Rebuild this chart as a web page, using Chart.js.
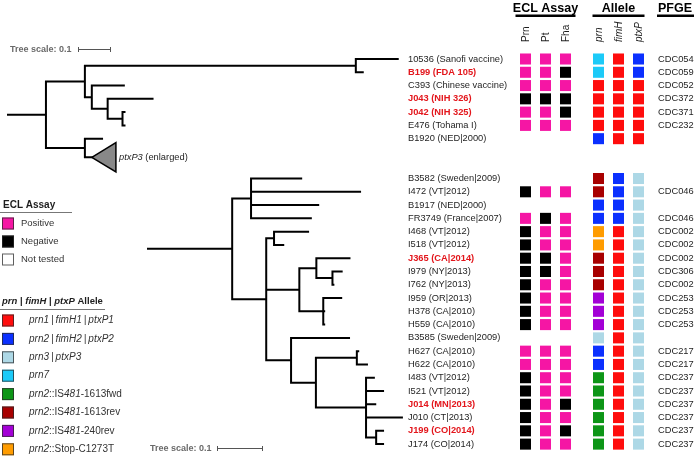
<!DOCTYPE html>
<html lang="en">
<head>
<meta charset="UTF-8">
<title>ECL assay and allele tree</title>
<script src="https://cdn.jsdelivr.net/npm/chart.js@4.4.0/dist/chart.umd.min.js"></script>
<style>
    html, body { margin: 0; padding: 0; background: #ffffff; overflow: hidden; }
    #wrap { width: 694px; height: 456px; }
</style>
</head>
<body>
<div id="wrap"><canvas id="chart" width="694" height="456"></canvas></div>
<script>
// strains top to bottom ('' = empty rows between the two trees)
const strains = [
    '10536 (Sanofi vaccine)', 'B199 (FDA 105)', 'C393 (Chinese vaccine)', 'J043 (NIH 326)',
    'J042 (NIH 325)', 'E476 (Tohama I)', 'B1920 (NED|2000)', '', '',
    'B3582 (Sweden|2009)', 'I472 (VT|2012)', 'B1917 (NED|2000)', 'FR3749 (France|2007)',
    'I468 (VT|2012)', 'I518 (VT|2012)', 'J365 (CA|2014)', 'I979 (NY|2013)', 'I762 (NY|2013)',
    'I959 (OR|2013)', 'H378 (CA|2010)', 'H559 (CA|2010)', 'B3585 (Sweden|2009)',
    'H627 (CA|2010)', 'H622 (CA|2010)', 'I483 (VT|2012)', 'I521 (VT|2012)', 'J014 (MN|2013)',
    'J010 (CT|2013)', 'J199 (CO|2014)', 'J174 (CO|2014)'
];
const highlighted = ['B199', 'J043', 'J042', 'J365', 'J014', 'J199'];

// ECL assay: P positive, N negative, '' not tested
const eclPrn = ['P','P','P','N','P','P','','','','','N','','P','N','N','N','N','N','N','N','N','','P','P','N','N','N','N','N','N'];
const eclPt  = ['P','P','P','N','P','P','','','','','P','','N','P','P','N','N','P','P','P','P','','P','P','P','P','P','P','P','P'];
const eclFha = ['P','N','P','N','N','P','','','','','P','','P','P','P','P','P','P','P','P','P','','P','P','P','P','N','P','N','P'];

// alleles: 1/2/3/7 = allele number, fwd/rev/240/stop = prn2 variants
const prnAllele  = ['7','7','1','1','1','1','2','','','rev','rev','2','2','stop','stop','rev','rev','rev','240','240','240','3','2','2','fwd','fwd','fwd','fwd','fwd','fwd'];
const fimHAllele = ['1','1','1','1','1','1','1','','','2','2','2','2','1','1','1','1','1','1','1','1','1','1','1','1','1','1','1','1','1'];
const ptxPAllele = ['2','2','1','1','1','1','1','','','3','3','3','3','3','3','3','3','3','3','3','3','3','3','3','3','3','3','3','3','3'];

const pfge = ['CDC054','CDC059','CDC052','CDC372','CDC371','CDC232','','','','','CDC046','','CDC046','CDC002','CDC002',
    'CDC002','CDC306','CDC002','CDC253','CDC253','CDC253','','CDC217','CDC217','CDC237','CDC237','CDC237','CDC237','CDC237','CDC237'];

// trees (branch lengths)
const topNewick = '(((10536:0.127,B199:0.021):0.821,(C393:0.097,(J043:0.136,(J042:0.006,E476:0.006):0.045):0.048):0.021):0.118,(B1920:0.052,ptxP3:0.021):0.118):0.115;';
const bottomNewick = '((B3582:0.109,I472:0.237,B1917:0.146,FR3749:0.130):0.041,((I468:0.074,I518:0.020):0.017,((J365:0.072,(I979:0.020,I762:0.002):0.035):0.037,(I959:0.039,H378:0.002,H559:0.002):0.052):0.072,(B3585:0.126,((H627:0.003,H622:0.022):0.089,(I483:0.017,I521:0.037,J014:0.020,J010:0.078,(J199:0.015,J174:0.015):0.022):0.109):0.054):0.054):0.074):0.183;';
const collapsedClade = { id: 'ptxP3', row: 7.4, depth: 0.073, halfSpan: 1.1 };

const eclColors = { P: '#f516a4', N: '#000000' };
const alleleColors = { '1': '#ff0d0d', '2': '#0b30ff', '3': '#add8e6', '7': '#1ccaf8',
    fwd: '#0d9617', rev: '#a80000', '240': '#a300d6', stop: '#ff9c00' };

// ---- layout ----
const W = 694, H = 456;
const ROW_TOP = 59, ROW_H = 13.28;
const FONT = '"Liberation Sans", Arial, Helvetica, sans-serif';
const LABEL_X = 408, PFGE_X = 658;
const PIPE = '\u2009|\u2009';

function parseNewick(str) {
    let i = 0;
    function readNode() {
        const node = { children: [], len: 0, name: '' };
        if (str[i] === '(') {
            i++;
            node.children.push(readNode());
            while (str[i] === ',') { i++; node.children.push(readNode()); }
            i++;
        }
        while (i < str.length && !':,();'.includes(str[i])) node.name += str[i++];
        if (str[i] === ':') {
            i++;
            let num = '';
            while (i < str.length && !',();'.includes(str[i])) num += str[i++];
            node.len = parseFloat(num);
        }
        return node;
    }
    return readNode();
}

function rowOf(id) {
    if (id === collapsedClade.id) return collapsedClade.row;
    return strains.findIndex(s => s.split(' ')[0] === id);
}

function layoutTree(node, start) {
    node.start = start;
    node.end = start + node.len;
    if (node.children.length) {
        node.children.forEach(c => layoutTree(c, node.end));
        node.y = (node.children[0].y + node.children[node.children.length - 1].y) / 2;
    } else {
        node.y = rowOf(node.name);
    }
    return node;
}

function branchSegments(node, out = []) {
    out.push({ x: node.start, y: node.y }, { x: node.end, y: node.y }, { x: null, y: null });
    if (node.children.length) {
        const first = node.children[0], last = node.children[node.children.length - 1];
        out.push({ x: node.end, y: first.y }, { x: node.end, y: last.y }, { x: null, y: null });
        node.children.forEach(c => branchSegments(c, out));
    }
    return out;
}

function findNode(node, name) {
    if (node.name === name) return node;
    for (const c of node.children) { const f = findNode(c, name); if (f) return f; }
    return null;
}

const topTree = layoutTree(parseNewick(topNewick), 0);
const bottomTree = layoutTree(parseNewick(bottomNewick), 0);
const clade = findNode(topTree, collapsedClade.id);

// heatmap columns
const columns = [
    { label: 'Prn', values: eclPrn, colors: eclColors, italic: false, pos: 0 },
    { label: 'Pt', values: eclPt, colors: eclColors, italic: false, pos: 1 },
    { label: 'Fha', values: eclFha, colors: eclColors, italic: false, pos: 2 },
    { label: 'prn', values: prnAllele, colors: alleleColors, italic: true, pos: 3.65 },
    { label: 'fimH', values: fimHAllele, colors: alleleColors, italic: true, pos: 4.65 },
    { label: 'ptxP', values: ptxPAllele, colors: alleleColors, italic: true, pos: 5.65 }
];
const heatPoints = [], heatColors = [];
columns.forEach(col => {
    col.values.forEach((v, row) => {
        if (!v) return;
        heatPoints.push({ x: col.pos, y: row });
        heatColors.push(col.colors[v]);
    });
});

const lineStyle = { showLine: true, borderColor: '#000', borderWidth: 2, pointRadius: 0,
    borderCapStyle: 'square', borderJoinStyle: 'miter', spanGaps: false, fill: false };

function setFont(ctx, size, weight, italic) {
    ctx.font = `${italic ? 'italic ' : ''}${weight || 'normal'} ${size}px ${FONT}`;
}

function drawRich(ctx, x, y, parts, size, weight, color) {
    ctx.fillStyle = color;
    ctx.textAlign = 'left';
    ctx.textBaseline = 'middle';
    parts.forEach(([t, it]) => {
        setFont(ctx, size, weight, it);
        ctx.fillText(t, x, y);
        x += ctx.measureText(t).width;
    });
}

const textPlugin = {
    id: 'textLayer',
    afterDraw(chart) {
        const ctx = chart.ctx;
        const y = chart.scales.y, xh = chart.scales.xh, xt = chart.scales.xt, xb = chart.scales.xb;
        ctx.save();

        // strain labels + PFGE
        strains.forEach((name, row) => {
            if (!name) return;
            const py = y.getPixelForValue(row);
            const hl = highlighted.includes(name.split(' ')[0]);
            ctx.textAlign = 'left';
            ctx.textBaseline = 'middle';
            setFont(ctx, 9.3, hl ? 'bold' : 'normal', false);
            ctx.fillStyle = hl ? '#e3161c' : '#1e1e1e';
            ctx.fillText(name, LABEL_X, py);
            if (pfge[row]) {
                setFont(ctx, 9.3, 'normal', false);
                ctx.fillStyle = '#1e1e1e';
                ctx.fillText(pfge[row], PFGE_X, py);
            }
        });

        // rotated column headers
        columns.forEach(col => {
            ctx.save();
            ctx.translate(xh.getPixelForValue(col.pos) + 1, 42);
            ctx.rotate(-Math.PI / 2);
            setFont(ctx, 10, 'normal', col.italic);
            ctx.fillStyle = '#1e1e1e';
            ctx.textAlign = 'left';
            ctx.textBaseline = 'middle';
            ctx.fillText(col.label, 0, 0);
            ctx.restore();
        });

        // group headers
        const groups = [
            { text: 'ECL Assay', from: xh.getPixelForValue(0) - 10, to: xh.getPixelForValue(2) + 10 },
            { text: 'Allele', from: xh.getPixelForValue(3.65) - 6, to: xh.getPixelForValue(5.65) + 6 },
            { text: 'PFGE', from: PFGE_X - 1, to: W }
        ];
        groups.forEach(g => {
            setFont(ctx, 12.5, 'bold', false);
            ctx.fillStyle = '#000';
            ctx.textAlign = 'center';
            ctx.textBaseline = 'alphabetic';
            ctx.fillText(g.text, g.text === 'PFGE' ? PFGE_X + 17 : (g.from + g.to) / 2, 11.5);
            ctx.fillRect(g.from, 14.5, g.to - g.from, 2.5);
        });

        // collapsed clade label
        drawRich(ctx, 119, y.getPixelForValue(collapsedClade.row),
            [['ptxP3', true], [' (enlarged)', false]], 9.3, 'normal', '#1e1e1e');

        // tree scale bars
        [{ sc: xt, start: 0.212, py: 49, tx: 10 }, { sc: xb, start: 0.15, py: 448, tx: 150 }].forEach(b => {
            setFont(ctx, 9, 'bold', false);
            ctx.fillStyle = '#6a6a6a';
            ctx.textAlign = 'left';
            ctx.textBaseline = 'middle';
            ctx.fillText('Tree scale: 0.1', b.tx, b.py + 0.5);
            const a = Math.round(b.sc.getPixelForValue(b.start)), e = Math.round(b.sc.getPixelForValue(b.start + 0.1));
            ctx.strokeStyle = '#555';
            ctx.lineWidth = 1;
            ctx.beginPath();
            ctx.moveTo(a, b.py + 0.5); ctx.lineTo(e, b.py + 0.5);
            ctx.moveTo(a + 0.5, b.py - 2); ctx.lineTo(a + 0.5, b.py + 3);
            ctx.moveTo(e - 0.5, b.py - 2); ctx.lineTo(e - 0.5, b.py + 3);
            ctx.stroke();
        });

        // legends
        const swatch = (cy, fill) => {
            ctx.fillStyle = fill;
            ctx.fillRect(2, cy - 6, 12, 12);
            ctx.strokeStyle = 'rgba(40,40,40,0.75)';
            ctx.lineWidth = 1;
            ctx.strokeRect(2.5, cy - 5.5, 11, 11);
        };
        setFont(ctx, 10, 'bold', false);
        ctx.fillStyle = '#1e1e1e';
        ctx.textAlign = 'left';
        ctx.textBaseline = 'alphabetic';
        ctx.fillText('ECL Assay', 3, 207.5);
        ctx.fillStyle = '#777';
        ctx.fillRect(0, 212, 72, 1);
        [['Positive', eclColors.P], ['Negative', eclColors.N], ['Not tested', '#ffffff']].forEach(([t, c], i) => {
            const cy = 223.5 + i * 18;
            swatch(cy, c);
            drawRich(ctx, 21, cy, [[t, false]], 9.5, 'normal', '#333');
        });

        drawRich(ctx, 2, 301.5, [['prn', true], [' | ', false], ['fimH', true], [' | ', false], ['ptxP', true], [' Allele', false]], 9.5, 'bold', '#1e1e1e');
        ctx.fillStyle = '#777';
        ctx.fillRect(0, 309, 105, 1);
        const alleleLegend = [
            ['1', [['prn1', true], [PIPE, true], ['fimH1', true], [PIPE, true], ['ptxP1', true]]],
            ['2', [['prn2', true], [PIPE, true], ['fimH2', true], [PIPE, true], ['ptxP2', true]]],
            ['3', [['prn3', true], [PIPE, true], ['ptxP3', true]]],
            ['7', [['prn7', true]]],
            ['fwd', [['prn2', true], ['::IS', false], ['481', true], ['-1613fwd', false]]],
            ['rev', [['prn2', true], ['::IS', false], ['481', true], ['-1613rev', false]]],
            ['240', [['prn2', true], ['::IS', false], ['481', true], ['-240rev', false]]],
            ['stop', [['prn2', true], ['::Stop-C1273T', false]]]
        ];
        alleleLegend.forEach(([k, parts], i) => {
            const cy = 320.5 + i * 18.4;
            swatch(cy, alleleColors[k]);
            drawRich(ctx, 29, cy, parts, 10, 'normal', '#333');
        });

        ctx.restore();
    }
};

new Chart(document.getElementById('chart'), {
    type: 'scatter',
    data: {
        datasets: [
            Object.assign({ label: 'top tree', xAxisID: 'xt', data: branchSegments(topTree) }, lineStyle),
            Object.assign({ label: 'bottom tree', xAxisID: 'xb', data: branchSegments(bottomTree) }, lineStyle),
            {
                label: 'ptxP3 clade', xAxisID: 'xt', showLine: true, pointRadius: 0,
                borderColor: '#000', borderWidth: 1.5, backgroundColor: '#888888', fill: 'shape',
                data: [
                    { x: clade.end, y: collapsedClade.row },
                    { x: clade.end + collapsedClade.depth, y: collapsedClade.row - collapsedClade.halfSpan },
                    { x: clade.end + collapsedClade.depth, y: collapsedClade.row + collapsedClade.halfSpan },
                    { x: clade.end, y: collapsedClade.row }
                ]
            },
            {
                label: 'heatmap', xAxisID: 'xh', data: heatPoints,
                pointStyle: 'rect', pointRadius: 7.8, pointBorderWidth: 0,
                pointBackgroundColor: heatColors, showLine: false
            }
        ]
    },
    options: {
        responsive: false,
        animation: false,
        devicePixelRatio: 1,
        layout: { padding: 0, autoPadding: false },
        plugins: { legend: { display: false }, tooltip: { enabled: false } },
        events: [],
        scales: {
            y: { type: 'linear', display: false, reverse: true,
                 min: -ROW_TOP / ROW_H, max: (H - ROW_TOP) / ROW_H },
            xt: { type: 'linear', display: false, min: -8 / 330, max: (W - 8) / 330 },
            xb: { type: 'linear', display: false, min: -148 / 460, max: (W - 148) / 460 },
            xh: { type: 'linear', display: false, min: -525.5 / 20, max: (W - 525.5) / 20 }
        }
    },
    plugins: [textPlugin]
});
</script>
</body>
</html>
